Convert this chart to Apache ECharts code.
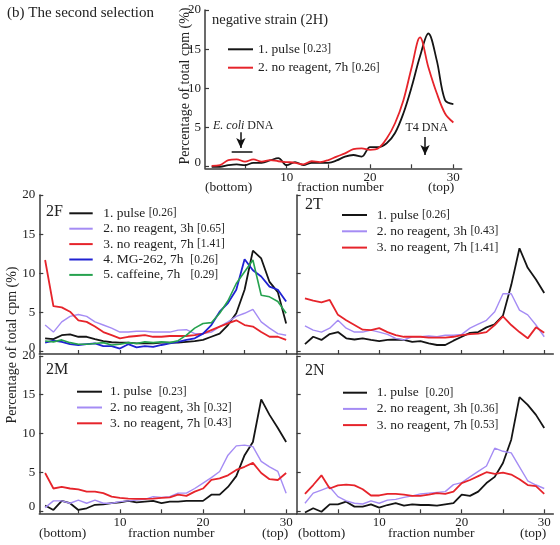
<!DOCTYPE html>
<html><head><meta charset="utf-8">
<script src="https://cdn.jsdelivr.net/npm/echarts/dist/echarts.min.js"></script>
<style>html,body{margin:0;padding:0;background:#fff}#c{width:560px;height:545px}</style>
</head><body><div id="c"></div>
<script>
// ---------- data ----------
const fractions = [1,2,3,4,5,6,7,8,9,10,11,12,13,14,15,16,17,18,19,20,21,22,23,24,25,26,27,28,29,30];
const yTicks = [0,5,10,15,20];
const xTicks = [5,10,15,20,25,30];
const xLabels = [10,20,30];

// negative strain (2H)
const h_pulse   = [0.0,0.0,0.2,0.3,0.2,0.5,0.5,0.8,1.1,0.2,0.6,0.2,0.5,0.5,0.5,0.8,1.3,1.5,1.3,2.5,2.5,3.0,4.3,6.8,10.2,14.1,17.0,13.6,8.5,8.0];
const h_noreag7 = [0.1,0.2,0.85,0.95,0.65,0.95,0.65,0.85,0.7,0.6,0.5,0.3,0.7,0.6,0.85,1.3,1.7,2.25,2.35,2.15,2.35,3.6,5.55,8.45,12.7,16.5,12.7,9.4,6.8,5.65];

// 2F
const f_pulse    = [1.7,1.6,2.1,2.2,1.9,1.9,1.6,1.35,1.2,1.15,1.15,1.05,1.05,1.05,1.15,1.15,1.15,1.25,1.35,1.5,1.9,2.3,3.4,4.9,7.9,12.9,11.9,8.9,7.6,3.6];
const f_noreag3  = [3.4,2.5,3.8,4.5,4.75,4.5,3.8,3.4,3.0,2.5,2.5,2.6,2.6,2.5,2.5,2.5,2.75,2.8,2.3,2.3,2.5,3.2,3.8,4.5,4.9,5.4,3.8,3.0,2.3,2.1];
const f_noreag7  = [11.7,5.8,5.65,5.1,4.0,3.8,3.2,2.5,2.1,1.7,1.9,2.0,2.1,1.9,1.9,2.0,2.0,2.0,2.1,2.3,2.75,3.2,3.6,4.0,3.4,3.2,2.5,1.9,1.9,1.5];
const f_mg262    = [1.15,1.4,1.25,0.95,0.85,0.95,1.05,0.7,0.7,0.4,0.95,0.55,0.7,0.6,0.85,1.05,1.25,1.5,1.7,2.3,3.4,5.1,6.2,7.9,11.8,10.4,9.6,8.3,7.9,6.4];
const f_caffeine = [1.35,1.25,1.5,1.15,0.95,0.95,1.05,1.15,0.85,0.95,1.15,1.05,1.25,1.15,1.25,1.15,1.4,2.1,3.0,3.6,3.7,4.9,6.5,8.7,10.2,11.7,7.2,7.0,6.4,4.9];

// 2T
const t_pulse   = [0.97,1.9,1.5,2.25,2.5,1.7,1.55,1.7,1.5,1.35,1.5,1.55,1.5,1.25,1.35,1.05,0.85,0.85,1.4,1.9,2.4,2.5,3.1,3.5,4.6,8.5,13.2,10.7,9.2,7.5];
const t_noreag3 = [3.3,2.75,2.5,3.0,4.0,3.0,2.5,2.5,2.75,2.5,2.2,1.7,1.5,1.9,1.9,2.0,1.9,2.1,2.1,2.2,3.0,3.5,4.0,5.1,7.4,7.4,5.3,4.7,3.4,1.9];
const t_noreag7 = [6.8,6.5,6.3,6.6,4.7,4.0,3.4,2.8,2.75,3.0,2.5,2.1,1.9,1.9,1.9,1.8,1.8,1.8,1.9,2.1,2.25,2.3,2.5,3.4,4.5,3.4,2.5,1.7,3.1,2.4];

// 2M
const m_pulse   = [0.7,0.13,1.3,1.0,0.13,0.35,0.8,0.85,1.0,1.1,1.3,1.1,1.2,1.3,1.0,1.2,1.2,1.3,1.3,1.3,2.1,2.1,3.1,4.5,7.2,8.9,14.4,12.4,10.7,8.9];
const m_noreag3 = [0.43,1.3,1.3,1.0,1.4,1.0,1.4,1.0,1.0,1.2,1.3,1.4,1.5,1.85,1.75,1.85,2.3,2.3,2.9,3.6,4.3,5.1,7.2,8.4,8.5,8.3,6.4,5.7,5.1,2.3];
const m_noreag7 = [4.9,2.9,3.1,2.9,2.8,2.5,2.5,2.3,1.85,1.7,1.6,1.55,1.55,1.6,1.7,1.75,2.1,1.95,2.5,2.9,4.0,4.2,4.6,5.3,5.7,6.2,4.9,4.1,4.0,4.9];

// 2N
const n_pulse   = [-0.2,0.35,-0.1,0.86,0.86,1.2,0.56,0.56,0.86,0.43,0.77,1.0,0.7,0.86,0.77,0.77,0.7,0.86,1.0,2.1,1.95,2.5,3.6,4.4,6.2,9.2,14.7,13.7,12.4,10.7];
const n_noreag3 = [1.0,2.3,2.7,3.1,1.85,1.3,1.0,0.9,1.3,1.0,1.4,1.5,1.75,1.95,2.2,2.3,2.4,2.5,3.4,3.65,4.4,5.1,5.8,8.1,7.7,7.5,5.7,3.9,3.35,2.9];
const n_noreag7 = [2.2,3.35,4.6,2.9,3.3,3.4,3.3,2.8,2.0,2.0,2.2,2.2,2.1,1.95,1.95,2.1,2.3,2.2,2.5,3.6,4.0,4.5,5.0,4.8,4.95,4.7,4.1,3.35,3.2,2.2];

// annotation positions (fraction, %)
const eColiArrow = [[4.5,4.4],[4.5,2.4]];
const eColiBar   = [[3.4,1.9],[5.9,1.9]];
const t4Arrow    = [[26.6,3.8],[26.6,1.5]];

// ---------- styling ----------
const FONT = '"Liberation Serif","Times New Roman",serif';
const AX = '#3a3a3a';
const C = {black:'#151515', purple:'#a58cf4', red:'#e6242b', blue:'#2022d2', green:'#26a24f'};

function pts(arr){ return fractions.map((f,i)=>[f,arr[i]]); }
function ser(name, arr, color, w, gi, smooth, extra){
  return Object.assign({type:'line', name, data:pts(arr), xAxisIndex:gi, yAxisIndex:gi,
    symbol:'none', smooth: smooth||false, lineStyle:{color, width:w}, itemStyle:{color},
    animation:false, z: 3}, extra||{});
}
function xAx(gi, min, max, labels){
  return {type:'value', gridIndex:gi, min, max,
    axisLine:{show:true, onZero:false, lineStyle:{color:AX, width:1.5}},
    axisTick:{show:true, inside:true, length:4, customValues:xTicks, lineStyle:{color:AX, width:1.2}},
    axisLabel:{show:labels, customValues:xLabels, margin:3, color:'#222', fontFamily:FONT, fontSize:13},
    splitLine:{show:false}};
}
function yAx(gi, min, max, labels){
  return {type:'value', gridIndex:gi, min, max,
    axisLine:{show:true, onZero:false, lineStyle:{color:AX, width:1.5}},
    axisTick:{show:true, inside:true, length:4, customValues:yTicks, lineStyle:{color:AX, width:1.2}},
    axisLabel:{show:labels, customValues:yTicks, margin:4, color:'#222', fontFamily:FONT, fontSize:13,
      formatter:(v)=> v===0 ? '{z|0}' : String(v),
      rich:{z:{padding:[0,0,8,0], fontFamily:FONT, fontSize:13, color:'#222'}}},
    splitLine:{show:false}};
}
function leg(names, left, top, iw, gap, padL){
  return {data:names.map(n=>({name:n, icon:'rect'})), orient:'vertical', left, top,
    itemWidth:iw, itemHeight:2, itemGap:gap, selectedMode:false, padding:0,
    formatter:(n)=> n.replace(/(\[[^\]]*\])/, '{s|$1}'),
    textStyle:{fontFamily:FONT, fontSize:13.5, color:'#222', lineHeight:15, padding:[0,0,0,padL],
      rich:{s:{fontFamily:FONT, fontSize:11.5, color:'#222', lineHeight:15}}}};
}
function txt(x,y,text,size,extra){
  return Object.assign({type:'text', x, y, silent:true,
    style:{text, font: size+'px '+FONT, fill:'#222', align:'left', verticalAlign:'middle'}}, extra||{});
}
function vtxt(x,y,text,size){
  return {type:'text', x, y, silent:true, rotation:Math.PI/2,
    style:{text, font: size+'px '+FONT, fill:'#222', align:'center', verticalAlign:'middle'}};
}

const chart = echarts.init(document.getElementById('c'), null, {renderer:'canvas'});

const N = {
  hp:'1. pulse [0.23]', h7:'2. no reagent, 7h [0.26]',
  fp:'1. pulse [0.26]', f3:'2. no reagent, 3h [0.65]', f7:'3. no reagent, 7h [1.41]', fm:'4. MG-262, 7h  [0.26]', fc:'5. caffeine, 7h   [0.29]',
  tp:'1. pulse [0.26]', t3:'2. no reagent, 3h [0.43]', t7:'3. no reagent, 7h [1.41]',
  mp:'1. pulse  [0.23]', m3:'2. no reagent, 3h [0.32]', m7:'3. no reagent, 7h [0.43]',
  np:'1. pulse  [0.20]', n3:'2. no reagent, 3h [0.36]', n7:'3. no reagent, 7h [0.53]'
};

const series = [
  ser(N.hp, h_pulse, C.black, 1.8, 0, 0.35, {markLine:{silent:true, animation:false, symbolSize:[7,10],
      lineStyle:{color:'#111', width:1.5, type:'solid'}, label:{show:false},
      data:[
        [{coord:eColiArrow[0], symbol:'none'},{coord:eColiArrow[1], symbol:'arrow'}],
        [{coord:eColiBar[0], symbol:'none'},{coord:eColiBar[1], symbol:'none'}],
        [{coord:t4Arrow[0], symbol:'none'},{coord:t4Arrow[1], symbol:'arrow'}]
      ]}}),
  ser(N.h7, h_noreag7, C.red, 1.8, 0, 0.35),
  ser(N.fp, f_pulse, C.black, 1.8, 1),
  ser(N.f3, f_noreag3, C.purple, 1.4, 1),
  ser(N.f7, f_noreag7, C.red, 1.8, 1),
  ser(N.fm, f_mg262, C.blue, 1.8, 1),
  ser(N.fc, f_caffeine, C.green, 1.6, 1),
  ser(N.tp, t_pulse, C.black, 1.8, 2),
  ser(N.t3, t_noreag3, C.purple, 1.4, 2),
  ser(N.t7, t_noreag7, C.red, 1.8, 2),
  ser(N.mp, m_pulse, C.black, 1.8, 3),
  ser(N.m3, m_noreag3, C.purple, 1.4, 3),
  ser(N.m7, m_noreag7, C.red, 1.8, 3),
  ser(N.np, n_pulse, C.black, 1.8, 4),
  ser(N.n3, n_noreag3, C.purple, 1.4, 4),
  ser(N.n7, n_noreag7, C.red, 1.8, 4)
];

const grids = [
  {left:205, top:10, width:256.7, height:158.3},
  {left:39.3, top:195, width:257.4, height:159},
  {left:296.7, top:195, width:256.6, height:159},
  {left:39.3, top:356, width:257.4, height:157.3},
  {left:296.7, top:356, width:256.6, height:157.3}
].map(g=>Object.assign({containLabel:false, outerBoundsMode:'none'}, g));

const option = {
  backgroundColor:'#fff',
  animation:false,
  grid: grids,
  xAxis:[ xAx(0,0.2,31,true), xAx(1,0.3,31.27,false), xAx(2,0,31.1,false), xAx(3,0.3,31.27,true), xAx(4,0,31.1,true) ],
  yAxis:[ yAx(0,-0.2,20,true), yAx(1,-0.3,20,true), yAx(2,-0.3,20,false), yAx(3,-0.3,20,true), yAx(4,-0.3,20,false) ],
  legend:[
    leg([N.hp,N.h7], 228, 41.8, 25, 3.4, 0),
    leg([N.fp,N.f3,N.f7,N.fm,N.fc], 69.3, 205.8, 23.4, 0.4, 5.6),
    leg([N.tp,N.t3,N.t7], 342, 207.5, 25, 1.3, 4.7),
    leg([N.mp,N.m3,N.m7], 77, 384.2, 25, 0.8, 3),
    leg([N.np,N.n3,N.n7], 343, 385.2, 24, 1.2, 4.7)
  ],
  series,
  graphic:[
    txt(7, 13, '(b) The second selection', 15),
    txt(212, 20, 'negative strain (2H)', 14.5),
    txt(46, 212, '2F', 16), txt(305, 205, '2T', 16),
    txt(46, 370, '2M', 16), txt(305, 371, '2N', 16),
    vtxt(185, 86, 'Percentage of total cpm (%)', 14),
    vtxt(12, 345, 'Percentage of total cpm (%)', 14),
    txt(205, 187, '(bottom)', 13.5), txt(297, 187, 'fraction number', 13.5), txt(428, 187, '(top)', 13.5),
    txt(39, 533, '(bottom)', 13.5), txt(128, 533, 'fraction number', 13.5), txt(262, 533, '(top)', 13.5),
    txt(298, 533, '(bottom)', 13.5), txt(388, 533, 'fraction number', 13.5), txt(520, 533, '(top)', 13.5),
    {type:'text', x:213, y:126, silent:true, style:{text:'{i|E. coli} DNA', font:'12px '+FONT, fill:'#222', verticalAlign:'middle',
      rich:{i:{fontStyle:'italic', fontFamily:FONT, fontSize:12, fill:'#222'}}}},
    {type:'text', x:426.7, y:128, silent:true, style:{text:'T4 DNA', font:'12px '+FONT, fill:'#222', align:'center', verticalAlign:'middle'}}
  ]
};
chart.setOption(option);
</script>
</body></html>
